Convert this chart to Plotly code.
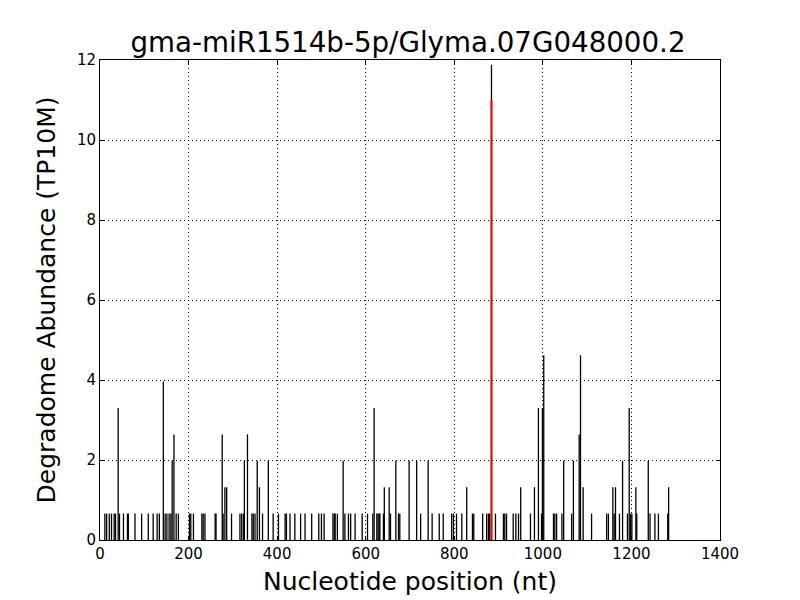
import plotly.graph_objects as go

positions = [11, 15, 21, 26, 32, 35, 41, 44, 53, 62, 64, 79, 94, 109, 120, 129, 134, 143, 147, 151,
             156, 160, 163, 167, 172, 177, 202, 205, 211, 230, 233, 237, 260, 262, 276, 278, 282, 286,
             297, 316, 320, 324, 326, 333, 343, 346, 350, 355, 360, 367, 380, 391, 403, 418, 421, 429,
             440, 453, 463, 478, 494, 500, 506, 526, 529, 531, 536, 549, 553, 561, 566, 576, 592, 604,
             616, 619, 625, 628, 630, 632, 640, 642, 653, 656, 668, 674, 677, 698, 715, 724, 741, 750,
             766, 775, 794, 798, 805, 817, 828, 841, 844, 864, 873, 877, 880, 884, 893, 911, 914, 918,
             933, 939, 945, 950, 972, 981, 990, 997, 999, 1002, 1024, 1027, 1031, 1043, 1047, 1065,
             1069, 1082, 1085, 1091, 1110, 1144, 1148, 1158, 1161, 1164, 1173, 1180, 1191, 1195, 1198,
             1201, 1210, 1212, 1238, 1242, 1253, 1261, 1282, 1284]
abundance = [0.66, 0.66, 0.66, 0.66, 0.66, 0.66, 3.3, 0.66, 0.66, 0.66, 0.66, 0.66, 0.66, 0.66, 0.66,
             0.66, 0.66, 3.96, 0.66, 0.66, 0.66, 0.66, 1.98, 2.64, 0.66, 0.66, 0.66, 0.66, 0.66, 0.66,
             0.66, 0.66, 0.66, 0.66, 2.64, 0.66, 1.32, 1.32, 0.66, 0.66, 0.66, 0.66, 1.98, 2.64, 0.66,
             0.66, 0.66, 1.98, 1.32, 0.66, 1.98, 0.66, 0.66, 0.66, 0.66, 0.66, 0.66, 0.66, 0.66, 0.66,
             0.66, 0.66, 0.66, 0.66, 0.66, 0.66, 0.66, 1.98, 0.66, 0.66, 0.66, 0.66, 0.66, 0.66, 0.66,
             3.3, 0.66, 0.66, 0.66, 0.66, 0.66, 1.32, 1.32, 0.66, 1.98, 0.66, 0.66, 1.98, 1.98, 0.66,
             1.98, 0.66, 0.66, 0.66, 0.66, 0.66, 0.66, 0.66, 1.32, 0.66, 0.66, 0.66, 0.66, 0.66, 0.66,
             11.88, 0.66, 0.66, 0.66, 0.66, 0.66, 0.66, 0.66, 1.32, 0.66, 1.32, 3.3, 0.66, 3.3, 4.62,
             0.66, 0.66, 0.66, 0.66, 1.98, 0.66, 1.98, 2.64, 4.62, 1.32, 0.66, 0.66, 0.66, 1.32, 0.66,
             1.32, 0.66, 1.98, 0.66, 3.3, 0.66, 0.66, 1.32, 0.66, 1.98, 0.66, 0.66, 0.66, 0.66, 1.32]
target_position = 884
target_abundance = 11.0

title = "gma-miR1514b-5p/Glyma.07G048000.2"
x_title = "Nucleotide position (nt)"
y_title = "Degradome Abundance (TP10M)"
x_ticks = [0, 200, 400, 600, 800, 1000, 1200, 1400]
y_ticks = [0, 2, 4, 6, 8, 10, 12]

xs, ys = [], []
for p, v in zip(positions, abundance):
    xs += [p, p, None]
    ys += [0, v, None]

fig = go.Figure()
fig.add_trace(go.Scatter(x=xs, y=ys, mode="lines", line=dict(color="black", width=1.3),
                         showlegend=False, hoverinfo="skip"))
fig.add_trace(go.Scatter(x=[target_position, target_position], y=[0, target_abundance], mode="lines",
                         line=dict(color="red", width=2), showlegend=False))

font = "DejaVu Sans, sans-serif"
axis_common = dict(showgrid=True, gridcolor="black", griddash="1px,3px", gridwidth=1,
                   showline=True, linecolor="black", linewidth=1, mirror="ticks",
                   ticks="inside", ticklen=4, tickcolor="black", zeroline=False,
                   tickfont=dict(family=font, size=15, color="black"))
fig.update_layout(
    width=800, height=600, plot_bgcolor="white", paper_bgcolor="white",
    margin=dict(l=92, r=88, t=52, b=68),
    title=dict(text=title, x=0.5, xanchor="center", y=0.942, yanchor="middle",
               font=dict(family=font, size=27.7, color="black")),
    xaxis=dict(range=[0, 1400], tickvals=x_ticks, title=dict(text=x_title, standoff=10,
               font=dict(family=font, size=25, color="black")), **axis_common),
    yaxis=dict(range=[0, 12], tickvals=y_ticks, title=dict(text=y_title, standoff=14,
               font=dict(family=font, size=25, color="black")), **axis_common),
)
fig.write_html("out.html")
